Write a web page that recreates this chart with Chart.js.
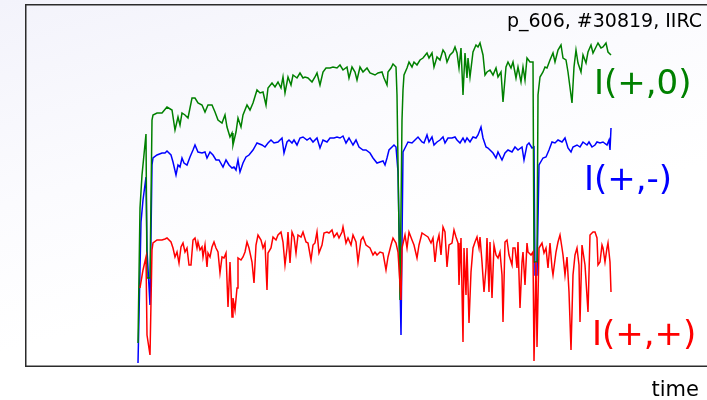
<!DOCTYPE html>
<html>
<head>
<meta charset="utf-8">
<script src="https://cdn.jsdelivr.net/npm/chart.js@4.4.1/dist/chart.umd.min.js"></script>
<style>
  html, body { margin: 0; padding: 0; }
  body {
    width: 707px; height: 400px; overflow: hidden; position: relative;
    background: linear-gradient(165deg, #f3f3fb 0%, #fbfbfe 35%, #ffffff 60%);
    font-family: "DejaVu Sans", sans-serif;
  }
  #wrap { position: absolute; left: 0; top: 0; width: 707px; height: 400px; }
  .lbl { position: absolute; white-space: nowrap; }
</style>
</head>
<body>
<div id="wrap"><canvas id="c" width="707" height="400"></canvas></div>
<div class="lbl" style="right:5px; top:11px; font-size:19px; line-height:19px; color:#000;">p_606, #30819, IIRC</div>
<div class="lbl" style="left:594px; top:65px; font-size:34px; line-height:34px; color:#008000;">I(+,0)</div>
<div class="lbl" style="left:584px; top:161px; font-size:34px; line-height:34px; color:#0000ff;">I(+,-)</div>
<div class="lbl" style="left:592px; top:316px; font-size:34px; line-height:34px; color:#ff0000;">I(+,+)</div>
<div class="lbl" style="right:8px; top:379px; font-size:21px; line-height:21px; color:#000;">time</div>
<script>
// time samples and currents (arbitrary units)
const greenT = [138,140,142,146,147,150,152,153,157,162,167,172,175,178,180,182,185,188,192,195,198,202,205,208,212,215,218,222,225,227,230,232,233,236,238,241,243,247,250,253,257,260,263,266,268,272,275,278,281,283,285,288,291,293,297,300,303,305,308,312,315,317,320,323,326,330,333,337,340,343,347,349,352,355,357,360,363,367,370,375,378,382,384,387,388,391,393,396,397,400,402,403,404,407,409,412,414,417,420,423,427,429,432,434,437,440,443,445,447,450,453,455,457,459,461,463,465,467,468,470,473,476,478,480,483,485,487,490,493,496,498,501,503,506,508,511,513,516,518,521,523,525,527,530,533,534,537,538,540,543,545,547,550,553,555,558,561,563,566,568,572,574,576,578,581,583,586,588,591,593,596,598,601,603,606,608,611];
const greenI = [23,158,191,232,88,88,246,251,253,253,259,256,236,249,241,253,251,248,268,268,263,261,254,261,261,254,246,243,251,239,229,233,221,234,248,239,251,261,256,263,276,273,274,261,278,283,279,284,278,289,273,289,281,291,288,293,288,289,288,284,289,293,281,294,298,298,299,298,301,296,299,288,299,294,286,299,294,298,293,291,293,294,288,281,294,298,302,299,271,66,246,276,291,298,304,299,304,301,306,308,313,308,313,299,309,306,316,313,304,311,314,319,313,298,318,271,313,288,308,289,314,321,319,323,311,291,294,296,291,298,289,294,264,299,304,298,304,288,299,284,299,286,308,304,304,104,104,271,289,294,299,298,306,313,304,316,321,308,306,294,263,299,316,303,294,311,303,314,321,313,319,323,318,319,323,314,311];

const blueT = [138,141,143,146,147,150,152,153,157,162,165,167,171,173,176,178,180,182,184,187,190,193,195,198,202,205,207,210,213,216,219,223,226,229,232,234,236,238,240,243,246,249,253,257,262,265,268,271,274,278,282,284,287,289,292,294,297,300,303,307,310,313,317,320,323,327,330,334,337,340,343,346,349,353,356,359,363,366,370,373,377,380,383,385,387,389,392,394,396,398,401,403,405,408,412,415,418,422,424,427,429,432,434,437,440,443,445,448,452,455,457,460,463,465,467,470,473,476,478,481,483,486,488,490,493,496,498,502,505,508,512,515,518,522,524,527,529,532,534,535,537,539,543,546,549,552,555,558,562,565,568,571,573,577,580,583,587,589,592,595,597,600,603,607,609,610,611];
const blueI = [3,144,166,189,116,61,201,208,211,213,213,215,211,204,191,201,199,208,203,201,209,216,221,214,213,214,208,214,211,206,206,199,206,201,198,199,196,206,194,203,209,211,216,223,221,219,223,226,223,224,228,213,224,226,223,226,221,228,229,226,228,224,228,218,226,224,228,228,229,228,230,223,228,221,226,219,216,216,213,208,203,204,205,201,208,216,219,221,219,194,31,214,218,224,223,226,229,224,223,231,224,229,221,224,226,229,223,228,228,229,226,223,228,224,228,224,229,228,231,239,228,219,218,216,213,208,214,206,213,216,214,219,216,219,206,221,223,218,219,91,91,201,208,209,216,224,223,226,224,228,218,214,219,221,219,224,221,224,219,221,224,223,224,221,226,216,238];

const redT = [140,143,146,147,150,152,153,157,162,165,167,171,173,175,177,179,181,183,185,187,189,191,193,195,197,198,200,202,203,205,207,208,210,212,214,216,218,220,222,224,226,228,230,232,233,235,237,238,241,243,245,247,249,252,254,256,258,261,263,265,267,268,271,273,276,278,281,283,285,287,288,290,292,294,296,298,301,303,306,308,311,313,315,317,319,322,324,327,329,332,334,337,339,342,343,346,348,351,353,356,358,361,363,366,370,373,375,377,380,383,386,388,391,393,396,398,401,402,405,407,409,412,414,417,419,422,425,428,431,433,435,437,439,441,443,445,447,449,452,454,456,458,459,461,463,464,466,467,469,471,473,475,477,479,480,482,484,486,487,489,490,492,494,496,498,500,502,503,505,507,509,512,513,515,517,518,520,522,523,525,527,528,531,533,534,536,537,539,542,544,546,548,550,552,553,556,558,560,562,563,565,567,569,571,573,575,577,579,580,582,585,588,590,593,595,597,598,600,602,603,605,607,608,610,611];
const redI = [78,96,109,31,11,116,123,126,126,127,128,124,118,109,114,103,119,123,114,118,101,101,126,128,118,124,116,119,109,121,99,113,109,119,124,118,114,93,109,108,113,59,104,49,68,56,78,108,106,109,114,124,118,104,83,121,131,126,118,123,76,113,118,129,126,131,134,124,101,118,134,103,134,129,113,131,129,134,124,123,106,121,123,134,113,121,133,134,133,136,129,133,128,134,139,123,128,121,131,124,104,126,129,121,118,111,114,111,114,113,96,109,121,128,123,114,66,118,131,118,134,126,121,108,121,133,131,129,123,128,104,123,131,111,139,134,99,121,123,136,129,123,81,128,24,118,71,118,43,94,118,124,129,118,129,104,74,98,128,74,124,68,121,111,108,114,91,44,124,126,111,101,118,118,98,124,58,104,114,81,123,114,111,114,5,104,19,118,123,113,118,98,123,98,91,114,124,131,118,111,91,109,74,16,91,111,118,101,44,121,101,54,131,134,134,128,101,104,121,118,104,118,123,104,74];

const xMin = 26;
const xMax = 707;
const yMin = 0;
const yMax = 361;

function pts(ts, vs) {
  return ts.map((t, i) => ({ x: t, y: vs[i] }));
}

// thin dark frame round the plot area (right side runs off the page)
const framePlugin = {
  id: "frame",
  beforeDatasetsDraw(chart) {
    const { ctx, chartArea: a } = chart;
    ctx.save();
    ctx.strokeStyle = "#2b2b2b";
    ctx.lineWidth = 1.5;
    ctx.strokeRect(a.left - 0.25, a.top - 0.25, a.right - a.left + 20, a.bottom - a.top + 0.5);
    ctx.restore();
  },
};

const line = (label, data, color) => ({
  label,
  data,
  borderColor: color,
  backgroundColor: color,
  borderWidth: 1.5,
  pointRadius: 0,
  tension: 0,
  fill: false,
});

new Chart(document.getElementById("c"), {
  type: "line",
  data: {
    datasets: [
      line("I(+,+)", pts(redT, redI), "#ff0000"),
      line("I(+,0)", pts(greenT, greenI), "#008000"),
      line("I(+,-)", pts(blueT, blueI), "#0000ff"),
    ],
  },
  options: {
    responsive: false,
    animation: false,
    layout: { padding: { left: 26, top: 5, right: 0, bottom: 34 } },
    plugins: { legend: { display: false }, tooltip: { enabled: false } },
    scales: {
      x: { type: "linear", min: xMin, max: xMax, display: false },
      y: { type: "linear", min: yMin, max: yMax, display: false },
    },
  },
  plugins: [framePlugin],
});
</script>
</body>
</html>
